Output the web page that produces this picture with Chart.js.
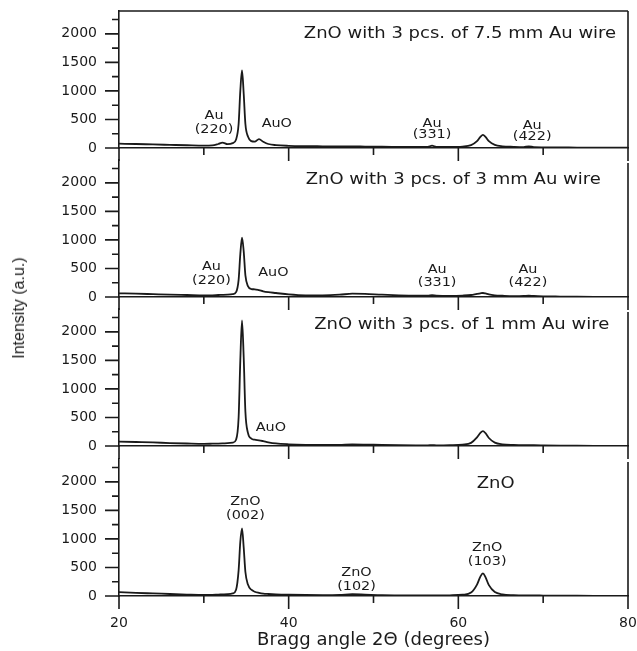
<!DOCTYPE html>
<html lang="en">
<head>
<meta charset="UTF-8" />
<title>XRD patterns - ZnO with Au wire</title>
<script src="https://cdn.jsdelivr.net/npm/chart.js"></script>
<style>
  body { margin: 0; background: #fff; }
  #figure { position: relative; width: 637px; height: 651px; overflow: hidden; background: #fff; }
  .panel { position: absolute; left: 0; }
  #ytitle {
    position: absolute; left: 19px; top: 308px;
    transform: translate(-50%, -50%) rotate(-90deg);
    font: 16px 'Liberation Sans Narrow', 'Liberation Sans', sans-serif; color: #1a1a1a; white-space: nowrap;
  }
</style>
</head>
<body>
<div id="figure">
  <canvas class="panel" id="p1" width="637" height="159" style="top:3px"></canvas>
  <canvas class="panel" id="p2" width="637" height="159" style="top:152px"></canvas>
  <canvas class="panel" id="p3" width="637" height="159" style="top:301px"></canvas>
  <canvas class="panel" id="p4" width="637" height="200" style="top:451px"></canvas>
  <div id="ytitle">Intensity (a.u.)</div>
</div>

<script>
// 2-theta positions (degrees), shared by all four scans
const angles = [20, 22, 24, 26, 28, 30, 31, 31.7, 32.2, 32.8, 33.4, 33.8,
  34.1, 34.3, 34.5, 34.7, 34.9, 35.2, 35.6, 36.0, 36.5, 37.0, 37.6, 38.5,
  40, 42, 44, 46, 47.5, 49, 51, 53, 55, 56.4, 56.9, 57.4,
  59, 60.5, 61.5, 62.2, 62.6, 62.9, 63.2, 63.6, 64.3, 65.2, 66.5, 67.7,
  68.3, 68.9, 70, 72, 74, 76, 78, 80];

// intensities (a.u.)
const int7_5mm = [75, 70, 62, 55, 48, 42, 45, 70, 95, 68, 85, 150,
  420, 1000, 1360, 950, 420, 200, 120, 110, 155, 110, 70, 50,
  38, 32, 30, 28, 28, 25, 22, 20, 18, 20, 40, 20,
  18, 25, 50, 120, 195, 230, 195, 120, 55, 30, 20, 15,
  30, 15, 12, 10, 8, 6, 5, 5];
const int3mm = [65, 58, 50, 42, 35, 28, 30, 35, 38, 42, 50, 85,
  300, 750, 1040, 800, 380, 190, 140, 135, 120, 100, 85, 70,
  45, 30, 30, 40, 58, 55, 40, 30, 25, 25, 32, 25,
  20, 25, 35, 55, 65, 70, 62, 45, 30, 22, 15, 18,
  25, 18, 12, 8, 5, 3, 2, 0];
const int1mm = [78, 70, 62, 52, 44, 38, 40, 42, 45, 50, 58, 110,
  500, 1500, 2200, 1550, 600, 230, 130, 110, 100, 85, 65, 45,
  30, 20, 18, 20, 28, 25, 18, 14, 12, 12, 14, 12,
  15, 25, 55, 150, 230, 262, 225, 140, 60, 30, 18, 14,
  16, 13, 10, 6, 4, 2, 0, 0];
const intZnO = [68, 55, 45, 35, 25, 18, 20, 25, 28, 32, 45, 110,
  450, 950, 1185, 850, 420, 200, 110, 75, 55, 42, 35, 28,
  22, 18, 17, 20, 32, 25, 15, 12, 10, 10, 10, 10,
  12, 22, 60, 200, 340, 397, 330, 190, 70, 30, 15, 10,
  10, 10, 8, 5, 4, 3, 2, 0];

const xTicks = [20, 30, 40, 50, 60, 70, 80];
const xLabels = [20, 40, 60, 80];
const yTicks = [0, 250, 500, 750, 1000, 1250, 1500, 1750, 2000, 2250];
const yLabels = [0, 500, 1000, 1500, 2000];

// panel captions and peak labels: [text, angle, intensity]
const title7_5mm = ['ZnO with 3 pcs. of 7.5 mm Au wire', 60.2, 1994];
const title3mm = ['ZnO with 3 pcs. of 3 mm Au wire', 59.4, 2040];
const title1mm = ['ZnO with 3 pcs. of 1 mm Au wire', 60.4, 2122];
const titleZnO = ['ZnO', 64.4, 1959];
const notes7_5mm = [['Au', 31.2, 560], ['(220)', 31.2, 320], ['AuO', 38.6, 420],
  ['Au', 56.9, 430], ['(331)', 56.9, 230], ['Au', 68.7, 390], ['(422)', 68.7, 200]];
const notes3mm = [['Au', 30.9, 520], ['(220)', 30.9, 286], ['AuO', 38.2, 415],
  ['Au', 57.5, 474], ['(331)', 57.5, 240], ['Au', 68.2, 474], ['(422)', 68.2, 240]];
const notes1mm = [['AuO', 37.9, 321]];
const notesZnO = [['ZnO', 34.9, 1654], ['(002)', 34.9, 1408], ['ZnO', 48.0, 398],
  ['(102)', 48.0, 163], ['ZnO', 63.4, 837], ['(103)', 63.4, 591]];

const ink = '#1a1a1a';
const fontFam = "'DejaVu Sans', sans-serif";

// frame lines, short/long tick marks and text labels for a panel
const panelDecor = {
  id: 'panelDecor',
  afterDraw(chart, args, opts) {
    const { ctx, chartArea: a, scales: { x, y } } = chart;
    ctx.save();
    ctx.strokeStyle = ink;
    ctx.lineWidth = 1.6;
    ctx.beginPath();
    y.ticks.forEach(t => {
      const py = y.getPixelForValue(t.value);
      const len = yLabels.includes(t.value) ? 14 : 7;
      ctx.moveTo(a.left - len, py);
      ctx.lineTo(a.left, py);
    });
    x.ticks.forEach(t => {
      const px = x.getPixelForValue(t.value);
      const len = xLabels.includes(t.value) ? 13 : 7;
      ctx.moveTo(px, a.bottom);
      ctx.lineTo(px, a.bottom + len);
    });
    ctx.moveTo(a.right, a.top + (opts.top ? 0 : 3));
    ctx.lineTo(a.right, a.bottom);
    if (opts.top) {
      ctx.moveTo(a.left, a.top);
      ctx.lineTo(a.right, a.top);
    }
    ctx.stroke();

    ctx.fillStyle = ink;
    ctx.textAlign = 'center';
    ctx.textBaseline = 'middle';
    const put = (item, size) => {
      ctx.save();
      ctx.translate(x.getPixelForValue(item[1]), y.getPixelForValue(item[2]));
      ctx.scale(1.2, 1);
      ctx.font = size + 'px ' + fontFam;
      ctx.fillText(item[0], 0, 0);
      ctx.restore();
    };
    put(opts.title, 15);
    opts.notes.forEach(n => put(n, 12));
    ctx.restore();
  }
};

function makePanel(id, values, title, notes, isTop, isBottom) {
  return new Chart(document.getElementById(id), {
    type: 'line',
    data: {
      datasets: [{
        data: angles.map((a, i) => ({ x: a, y: values[i] })),
        borderColor: ink,
        borderWidth: 1.8,
        pointRadius: 0,
        cubicInterpolationMode: 'monotone'
      }]
    },
    options: {
      responsive: false,
      animation: false,
      layout: { padding: { top: 8, right: 9, left: 0, bottom: 0 } },
      plugins: {
        legend: { display: false },
        tooltip: { enabled: false },
        panelDecor: { title: title, notes: notes, top: isTop }
      },
      scales: {
        x: {
          type: 'linear', min: 20, max: 80,
          afterBuildTicks: s => { s.ticks = xTicks.map(v => ({ value: v })); },
          afterFit: s => {
            s.height = isBottom ? 55 : 14;
            s.paddingLeft = 0;
            s.paddingRight = 0;
          },
          grid: { drawOnChartArea: false, drawTicks: false },
          border: { color: ink, width: 1.6 },
          ticks: {
            display: isBottom, autoSkip: false, maxRotation: 0, padding: 19,
            color: ink, font: { family: fontFam, size: 14 },
            callback: v => xLabels.includes(v) ? v : ''
          },
          title: {
            display: isBottom, text: 'Bragg angle 2\u0398 (degrees)', color: ink,
            font: { family: fontFam, size: 18 }, padding: { top: 0, bottom: 0 }
          }
        },
        y: {
          min: 0, max: 2400,
          afterBuildTicks: s => { s.ticks = yTicks.map(v => ({ value: v })); },
          afterFit: s => {
            s.width = 119;
            s.paddingTop = 0;
            s.paddingBottom = 0;
          },
          grid: { drawOnChartArea: false, drawTicks: false },
          border: { color: ink, width: 1.6 },
          ticks: {
            autoSkip: false, padding: 22, color: ink,
            font: { family: fontFam, size: 14 },
            callback: v => yLabels.includes(v) ? v : ''
          }
        }
      }
    },
    plugins: [panelDecor]
  });
}

makePanel('p1', int7_5mm, title7_5mm, notes7_5mm, true, false);
makePanel('p2', int3mm, title3mm, notes3mm, false, false);
makePanel('p3', int1mm, title1mm, notes1mm, false, false);
makePanel('p4', intZnO, titleZnO, notesZnO, false, true);
</script>
</body>
</html>
